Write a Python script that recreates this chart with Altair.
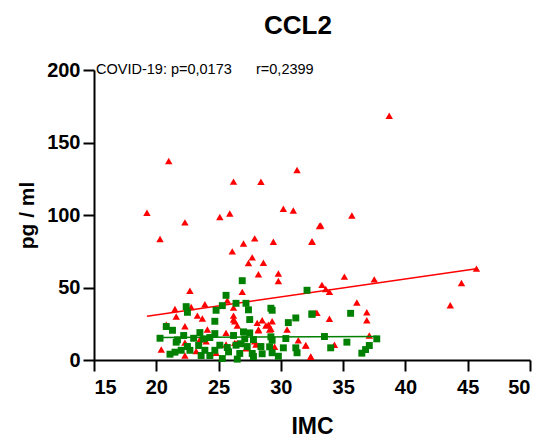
import altair as alt
import pandas as pd

# COVID-19 group (red triangles)
covid_imc = [21.0, 19.25, 20.3, 22.3, 26.2, 28.4, 31.3, 25.1, 25.9, 30.2, 31.0, 33.1, 32.5,
             27.9, 27.0, 29.4, 26.1, 27.7, 27.4, 28.6, 28.2, 29.8, 29.8, 26.9, 22.7, 25.7,
             21.5, 22.8, 23.9, 26.2, 23.3, 23.7, 26.2, 26.5, 28.1, 28.5, 29.3, 28.8, 29.1,
             28.2, 30.5, 22.3, 20.8, 24.1, 23.5, 20.4, 22.3, 31.4, 32.0, 32.4, 29.5, 28.0,
             26.3, 32.9, 38.7, 35.7, 33.2, 32.5, 35.1, 37.5, 33.3, 33.6, 33.9, 45.7, 44.5,
             43.6, 36.1, 36.9, 32.8, 33.9, 36.9, 37.1, 32.0, 34.3, 32.4, 26.2, 26.3, 29.0,
             29.2, 28.2, 24.0, 26.5, 27.9, 25.6, 23.2, 25.6, 22.3, 21.6, 24.8, 27.2]
covid_val = [137.3, 101.5, 83.4, 94.9, 123.0, 122.9, 131.0, 98.6, 101.0, 104.3, 103.1, 92.4, 81.8,
             83.9, 80.4, 81.6, 74.9, 70.8, 66.9, 67.1, 59.1, 59.6, 54.5, 47.0, 47.8, 41.0,
             35.2, 36.6, 38.4, 36.1, 30.6, 28.6, 27.9, 23.8, 25.6, 27.4, 26.7, 23.8, 21.0,
             21.0, 21.0, 23.3, 24.4, 21.0, 14.1, 7.2, 3.1, 13.6, 10.2, 2.2, 9.1, 10.7,
             11.8, 32.5, 168.5, 99.7, 92.8, 81.6, 57.5, 55.6, 51.8, 49.0, 47.0, 63.0, 53.1,
             37.7, 39.6, 32.9, 32.5, 28.4, 27.4, 16.9, 10.0, 10.5, 2.2, 30.6, 26.7, 24.4,
             21.5, 20.5, 12.9, 11.8, 12.9, 10.7, 6.1, 18.7, 12.0, 30.0, 5.0, 8.0]

# Control group (green squares)
ctrl_imc = [26.9, 25.6, 32.1, 26.4, 27.2, 25.3, 24.8, 22.4, 22.5, 27.4, 29.2, 29.3, 32.5,
            31.2, 30.6, 27.5, 24.7, 20.8, 21.3, 23.5, 24.7, 22.2, 20.3, 21.7, 23.0, 24.3,
            23.8, 26.2, 27.0, 27.5, 27.8, 27.1, 29.2, 29.3, 30.4, 21.6, 22.5, 22.0, 22.7,
            21.1, 21.5, 23.4, 23.9, 23.6, 24.3, 24.7, 25.1, 25.7, 25.8, 25.3, 26.5, 26.7,
            26.4, 26.8, 27.3, 27.7, 27.8, 28.4, 28.5, 29.3, 29.8, 30.2, 31.2, 31.3, 29.1,
            32.5, 35.6, 33.5, 35.3, 34.0, 37.7, 37.1, 36.8, 36.5]
ctrl_val = [54.7, 44.6, 48.1, 39.1, 39.1, 37.5, 34.3, 36.8, 32.9, 34.6, 35.7, 34.3, 31.8,
            29.0, 25.8, 27.9, 26.7, 23.1, 20.5, 18.9, 18.2, 16.9, 15.0, 13.9, 15.0, 15.5,
            14.6, 16.9, 19.4, 18.7, 14.1, 14.6, 16.0, 13.6, 14.8, 12.3, 9.3, 6.7, 6.7,
            4.0, 5.4, 10.0, 6.7, 3.1, 3.1, 6.7, 10.2, 8.6, 5.6, 1.0, 0.6, 4.5,
            10.2, 11.2, 9.3, 4.5, 2.4, 9.3, 4.3, 5.0, 2.6, 8.4, 8.4, 5.0, 9.1,
            31.5, 32.2, 16.2, 12.3, 8.4, 14.6, 10.0, 7.2, 4.7]

# Fitted regression lines (endpoints)
covid_fit_imc = [19.25, 45.7]
covid_fit_val = [30.2, 63.0]
ctrl_fit_imc = [20.3, 37.7]
ctrl_fit_val = [15.5, 16.2]

annotation = "COVID-19: p=0,0173\u00a0\u00a0\u00a0\u00a0\u00a0\u00a0r=0,2399"

FONT = "Liberation Sans"

covid = pd.DataFrame({"IMC": covid_imc, "val": covid_val})
ctrl = pd.DataFrame({"IMC": ctrl_imc, "val": ctrl_val})
covid_fit = pd.DataFrame({"IMC": covid_fit_imc, "val": covid_fit_val})
ctrl_fit = pd.DataFrame({"IMC": ctrl_fit_imc, "val": ctrl_fit_val})
ann = pd.DataFrame({"IMC": [15], "val": [200], "t": [annotation]})

xs = alt.Scale(domain=[15, 50], nice=False, zero=False)
ys = alt.Scale(domain=[0, 200], nice=False)

x_axis = alt.Axis(values=[15, 20, 25, 30, 35, 40, 45, 50], title="IMC", grid=False)
y_axis = alt.Axis(values=[0, 50, 100, 150, 200], title="pg / ml", grid=False)

X = alt.X("IMC:Q", scale=xs, axis=x_axis)
Y = alt.Y("val:Q", scale=ys, axis=y_axis)

red_line = alt.Chart(covid_fit).mark_line(color="#ff0000", strokeWidth=1.5).encode(x=X, y=Y)
red_pts = alt.Chart(covid).mark_point(shape="triangle-up", filled=True, color="#ff0000",
                                      size=55, opacity=1).encode(x=X, y=Y)
green_line = alt.Chart(ctrl_fit).mark_line(color="#008000", strokeWidth=1.5).encode(x=X, y=Y)
green_pts = alt.Chart(ctrl).mark_point(shape="square", filled=True, color="#008000",
                                       size=48, opacity=1).encode(x=X, y=Y)
text = alt.Chart(ann).mark_text(align="left", baseline="middle", dx=2, fontSize=14.5,
                                font=FONT, color="black").encode(x=X, y=Y, text="t:N")

chart = alt.layer(red_line, red_pts, green_line, green_pts, text).properties(
    width=436, height=290,
    title=alt.TitleParams("CCL2", fontSize=26, fontWeight="bold", font=FONT,
                          color="black", anchor="middle", dx=-14, offset=21),
    autosize=alt.AutoSizeParams(type="none"),
    padding={"left": 94, "top": 70, "right": 15, "bottom": 79},
).configure_view(stroke=None).configure_axis(
    domainColor="black", domainWidth=2, tickColor="black", tickWidth=2, tickSize=11,
    labelFont=FONT, labelFontSize=20, labelFontWeight="bold", labelColor="black",
    titleFont=FONT, titleFontWeight="bold", titleColor="black", labelPadding=4,
).configure_axisX(titleFontSize=23, titlePadding=18, labelPadding=6
).configure_axisY(titleFontSize=21, titlePadding=9, labelPadding=3)

chart.save("out.html", embed_options={"renderer": "svg", "actions": False})
